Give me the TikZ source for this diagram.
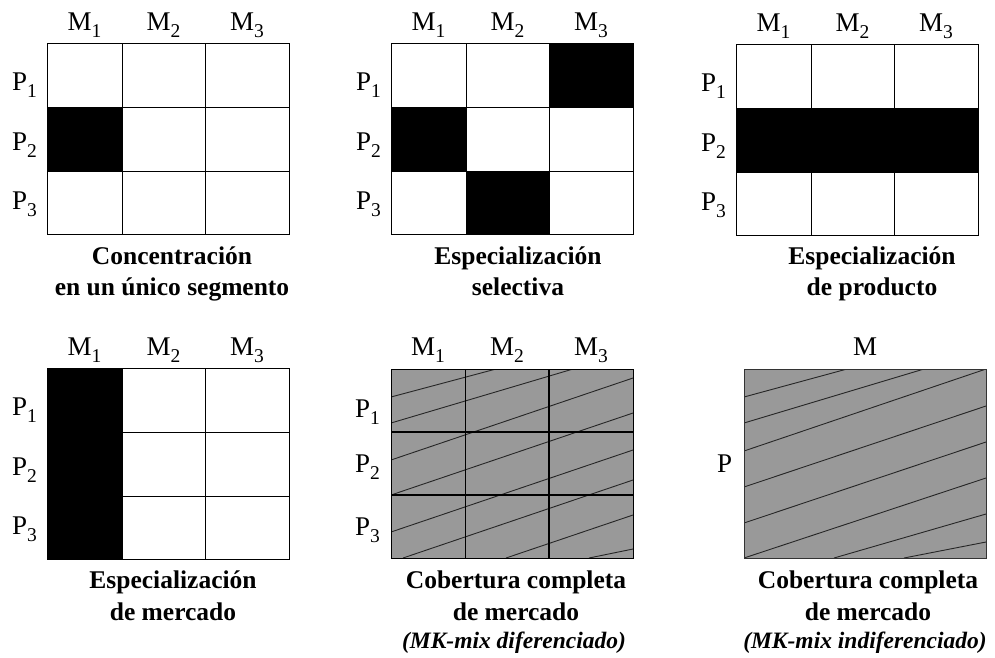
\documentclass[tikz,border=0pt]{standalone}
\usepackage{fontspec}
\setmainfont{Liberation Serif}
\usepackage{tikz}
\definecolor{cover}{RGB}{153,153,153}
\newcommand{\subx}[1]{\raisebox{-7.5pt}{\fontsize{19.5}{19.5}\selectfont #1}}
\tikzset{
  lbl/.style={inner sep=0pt,anchor=base,font=\fontsize{27}{27}\selectfont},
  plbl/.style={lbl,anchor=base west},
  captxt/.style={inner sep=0pt,anchor=base,font=\fontsize{25.5}{30}\selectfont\bfseries},
  captit/.style={captxt,font=\fontsize{23.5}{26}\selectfont\bfseries\itshape},
  gridline/.style={line width=0.9pt},
  thickline/.style={line width=2.8pt},
  hatch/.style={line width=0.9pt,black!85},
}

\begin{document}
\begin{tikzpicture}[x=1pt,y=-1pt]
  \useasboundingbox (0,0) rectangle (995,657);
  % filled cells
  \fill (47,107) rectangle (122,171);
  \fill (549,43) rectangle (633,107) (391,107) rectangle (466,171) (466,171) rectangle (549,234);
  \fill (736,108) rectangle (978,172);
  \fill (47,368) rectangle (122,559);
  % 3x3 grids with labels
  \foreach \p/\ox/\oy in {A/47/43,B/391/43,C/736/44,D/47/368}{
    \begin{scope}[shift={(\ox,\oy)}]
      \draw[gridline] (0,0) rectangle (242,191) (75,0)--(75,191) (158,0)--(158,191) (0,64)--(242,64) (0,128)--(242,128);
      \foreach \i/\cx in {1/37.5,2/116.5,3/200} \node[lbl] (\p-m\i) at (\cx,-13) {M\subx{\i}};
      \foreach \i/\py in {1/47,2/107,3/166} \node[plbl] (\p-p\i) at (-35,\py) {P\subx{\i}};
    \end{scope}
  }
  % full coverage, differentiated
  \begin{scope}[shift={(391,369)}]
    \fill[cover] (0,0) rectangle (242,189);
    \begin{scope}
      \clip (0,0) rectangle (242,189);
      \draw[hatch] (0,28)--(105,0) (0,54)--(182,0) (0,91)--(242,9) (0,126)--(242,44) (0,163)--(242,81)
        (12,189)--(242,111) (115,189)--(242,146) (198,189)--(242,180);
    \end{scope}
    \draw[gridline] (0,0) rectangle (242,189) (74,0)--(74,189);
    \draw[thickline] (158,0)--(158,189) (0,63)--(242,63) (0,126)--(242,126);
    \foreach \i/\cx in {1/37,2/116,3/200} \node[lbl] (E-m\i) at (\cx,-14) {M\subx{\i}};
    \foreach \i/\py in {1/48,2/103,3/166} \node[plbl] (E-p\i) at (-36,\py) {P\subx{\i}};
  \end{scope}
  % full coverage, undifferentiated
  \begin{scope}[shift={(744,369)}]
    \fill[cover] (0,0) rectangle (242,189);
    \begin{scope}
      \clip (0,0) rectangle (242,189);
      \draw[hatch] (0,28)--(103,0) (0,54)--(180,0) (0,82)--(242,0) (0,118)--(242,37) (0,154)--(242,73)
        (0,189)--(242,109) (90,189)--(242,145) (160,189)--(242,173);
    \end{scope}
    \draw[gridline,black!80] (0,0) rectangle (242,189);
    \node[lbl] (F-m) at (121,-14) {M};
    \node[plbl] (F-p) at (-27,103) {P};
  \end{scope}
  % captions
  \node[captxt] (A-t1) at (172,264) {Concentración};
  \node[captxt] (A-t2) at (172,295) {en un único segmento};
  \node[captxt] (B-t1) at (518,264) {Especialización};
  \node[captxt] (B-t2) at (518,295) {selectiva};
  \node[captxt] (C-t1) at (872,264) {Especialización};
  \node[captxt] (C-t2) at (872,295) {de producto};
  \node[captxt] (D-t1) at (173,588) {Especialización};
  \node[captxt] (D-t2) at (173,620) {de mercado};
  \node[captxt] (E-t1) at (516,588) {Cobertura completa};
  \node[captxt] (E-t2) at (516,620) {de mercado};
  \node[captit] (E-t3) at (514,648) {(MK-mix diferenciado)};
  \node[captxt] (F-t1) at (868,588) {Cobertura completa};
  \node[captxt] (F-t2) at (868,620) {de mercado};
  \node[captit] (F-t3) at (865,648) {(MK-mix indiferenciado)};
\end{tikzpicture}
\end{document}
